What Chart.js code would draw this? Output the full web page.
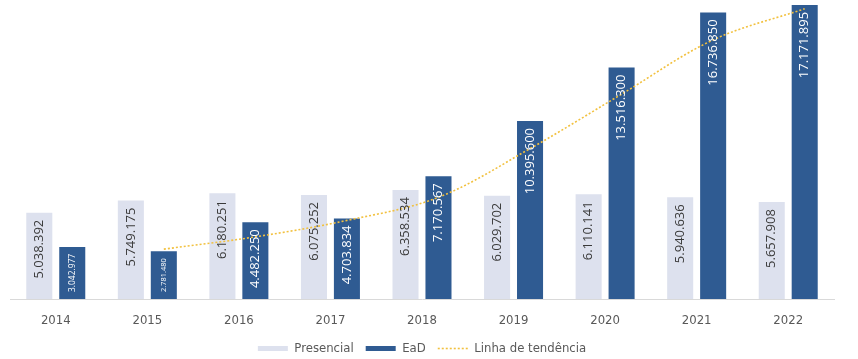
<!DOCTYPE html>
<html lang="pt-BR">
<head>
<meta charset="utf-8">
<title>Matrículas Presencial x EaD</title>
<script src="https://cdn.jsdelivr.net/npm/chart.js@4/dist/chart.umd.min.js"></script>
<style>
    html, body { margin: 0; padding: 0; background: #ffffff; }
    #wrap { position: relative; width: 858px; height: 359px; }
</style>
</head>
<body>
<div id="wrap"><canvas id="matriculasChart"></canvas></div>
<script>
const anos = ['2014', '2015', '2016', '2017', '2018', '2019', '2020', '2021', '2022'];
const presencial = [5038392, 5749175, 6180251, 6075252, 6358534, 6029702, 6110141, 5940636, 5657908];
const ead = [3042977, 2781480, 4482250, 4703834, 7170567, 10395600, 13516300, 16736850, 17171895];
// linha de tendência (média móvel da EaD), a partir de 2015
const tendencia = [null, 2910000, 3630000, 4590000, 5940000, 8780000, 11960000, 15130000, 16950000];

const corPresencial = '#dde1ee'
const corEad = '#2f5b92'
const corTendencia = '#f2c13f'
const corTexto = '#595959'
const fonteNarrow = "'Liberation Sans Narrow', 'DejaVu Sans Condensed', 'Liberation Sans', sans-serif"

function formatar(v) {
    return String(v).replace(/\B(?=(\d{3})+(?!\d))/g, '.');
}

// a linha de tendência passa pelo centro das barras EaD
const linhaNaBarra = {
    id: 'linhaNaBarra',
    afterDatasetsUpdate(chart) {
        const metaEad = chart.getDatasetMeta(1)
        const metaLinha = chart.getDatasetMeta(2)
        metaLinha.data.forEach((pt, j) => {
            pt.x = metaEad.data[j].x
        })
    }
}

// rótulos verticais dentro das barras
const rotulosBarras = {
    id: 'rotulosBarras',
    afterDatasetsDraw(chart) {
        const ctx = chart.ctx
        chart.data.datasets.forEach((ds, i) => {
            if (ds.type === 'line') return;
            const meta = chart.getDatasetMeta(i)
            meta.data.forEach((bar, j) => {
                const texto = formatar(ds.data[j])
                const altura = bar.base - bar.y
                let tam = 13
                ctx.font = tam + "px 'Open Sans', sans-serif"
                const largura = ctx.measureText(texto).width
                if (largura + 14 > altura) {
                    tam = Math.max(6, tam * (altura - 14) / largura)
                }
                ctx.save()
                ctx.font = tam + "px 'Open Sans', sans-serif"
                ctx.fillStyle = ds.labelColor
                ctx.translate(bar.x, bar.y + 7)
                ctx.rotate(-Math.PI / 2)
                ctx.textAlign = 'right'
                ctx.textBaseline = 'middle'
                ctx.fillText(texto, 0, 0)
                ctx.restore()
            })
        })
    }
}

const ctx = document.getElementById('matriculasChart')

new Chart(ctx, {
    data: {
        labels: anos,
        datasets: [{
            type: 'bar',
            label: 'Presencial',
            data: presencial,
            backgroundColor: corPresencial,
            labelColor: '#3a3a3a',
            categoryPercentage: 0.72,
            barPercentage: 0.79,
            order: 1,
        }, {
            type: 'bar',
            label: 'EaD',
            data: ead,
            backgroundColor: corEad,
            labelColor: '#ffffff',
            categoryPercentage: 0.72,
            barPercentage: 0.79,
            order: 1,
        }, {
            type: 'line',
            label: 'Linha de tendência',
            data: tendencia,
            borderColor: corTendencia,
            backgroundColor: 'transparent',
            borderWidth: 1.6,
            borderDash: [2, 2],
            pointRadius: 0,
            tension: 0.35,
            order: -1,
        }]
    },
    options: {
        responsive: true,
        maintainAspectRatio: false,
        animation: false,
        layout: {
            padding: { left: 10, right: 24, top: 0, bottom: -6 }
        },
        scales: {
            x: {
                offset: true,
                grid: { display: false, drawTicks: false },
                border: { display: true, color: '#d9d9d9', width: 1 },
                ticks: {
                    color: corTexto,
                    padding: 14,
                    font: { family: fonteNarrow, size: 13 },
                },
                afterFit(scale) {
                    scale.height = 31
                },
            },
            y: {
                display: false,
                min: 0,
                max: 17460000,
            },
        },
        plugins: {
            tooltip: { enabled: false },
            legend: {
                position: 'bottom',
                labels: {
                    usePointStyle: true,
                    pointStyleWidth: 30,
                    boxHeight: 5,
                    padding: 12,
                    color: corTexto,
                    font: { family: fonteNarrow, size: 13 },
                    generateLabels(chart) {
                        return chart.data.datasets.map((ds, i) => {
                            const linha = ds.type === 'line'
                            return {
                                text: ds.label,
                                fillStyle: linha ? 'transparent' : ds.backgroundColor,
                                strokeStyle: linha ? ds.borderColor : ds.backgroundColor,
                                lineWidth: linha ? 1.6 : 0,
                                lineDash: linha ? [2, 2] : [],
                                pointStyle: linha ? 'line' : 'rect',
                                fontColor: corTexto,
                                hidden: false,
                                datasetIndex: i,
                            }
                        })
                    },
                },
            },
        },
    },
    plugins: [linhaNaBarra, rotulosBarras],
});
</script>
</body>
</html>
